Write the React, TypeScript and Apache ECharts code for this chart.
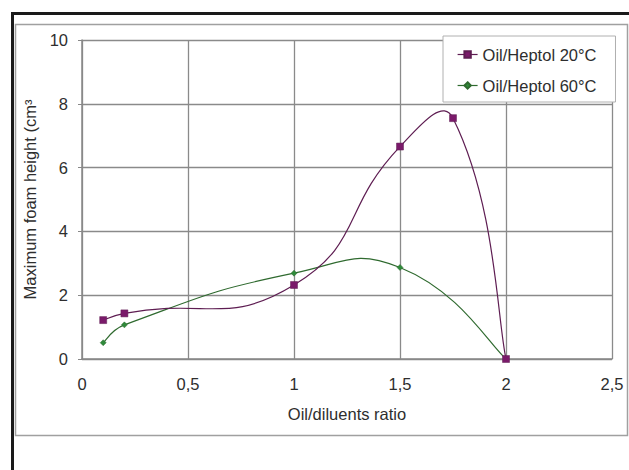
import React, { useEffect, useRef } from "react";
import * as echarts from "echarts";

const xTicks = [0, 0.5, 1, 1.5, 2, 2.5];
const yTicks = [0, 2, 4, 6, 8, 10];

const ratio20 = [0.1, 0.2, 1.0, 1.5, 1.75, 2.0];
const height20 = [1.22, 1.43, 2.32, 6.66, 7.55, 0];

const ratio60 = [0.1, 0.2, 1.0, 1.5, 2.0];
const height60 = [0.51, 1.07, 2.69, 2.87, 0];

const seriesNames = ["Oil/Heptol 20°C", "Oil/Heptol 60°C"];

const FONT = "'Liberation Sans', Arial, sans-serif";
const FS = 16.5;
const TEXT = "#2e2e2e";

const PURPLE_LINE = "#5e1d52";
const PURPLE_MARK = "#7a1a6a";
const GREEN_LINE = "#2f6a2f";
const GREEN_MARK = "#2f8a3a";

// Excel-like smoothed curve through the data points (distance-weighted tangents), in pixel space
function smoothCurve(xs: number[], ys: number[], color: string) {
  return (params: any, api: any) => {
    if (params.dataIndex !== 0) return null;
    const pts: number[][] = xs.map((x, i) => api.coord([x, ys[i]]));
    const n = pts.length;
    const s = 0.5;
    const dist = (a: number[], b: number[]) => Math.hypot(a[0] - b[0], a[1] - b[1]);
    const inCp: number[][] = [];
    const outCp: number[][] = [];
    for (let i = 0; i < n; i++) {
      const p = pts[i];
      if (i === 0 || i === n - 1) {
        const q = i === 0 ? pts[1] : pts[n - 2];
        const c = [p[0] + (q[0] - p[0]) * s / 3, p[1] + (q[1] - p[1]) * s / 3];
        inCp.push(c);
        outCp.push(c);
        continue;
      }
      const prev = pts[i - 1];
      const next = pts[i + 1];
      const v = [next[0] - prev[0], next[1] - prev[1]];
      const dp = dist(p, prev);
      const dn = dist(p, next);
      const tot = dp + dn || 1;
      inCp.push([p[0] - v[0] * s * dp / tot, p[1] - v[1] * s * dp / tot]);
      outCp.push([p[0] + v[0] * s * dn / tot, p[1] + v[1] * s * dn / tot]);
    }
    const children: any[] = [];
    for (let i = 0; i < n - 1; i++) {
      children.push({
        type: "bezierCurve",
        shape: {
          x1: pts[i][0],
          y1: pts[i][1],
          x2: pts[i + 1][0],
          y2: pts[i + 1][1],
          cpx1: outCp[i][0],
          cpy1: outCp[i][1],
          cpx2: inCp[i + 1][0],
          cpy2: inCp[i + 1][1],
        },
        style: { stroke: color, fill: "none", lineWidth: 1.2 },
      });
    }
    return { type: "group", children };
  };
}

export default function App() {
  const ref = useRef<HTMLDivElement>(null);

  useEffect(() => {
    if (!ref.current) return;
    const chart = echarts.init(ref.current, null, { renderer: "svg" });
    const pairs = (xs: number[], ys: number[]) => xs.map((x, i) => [x, ys[i]]);
    chart.setOption({
      animation: false,
      backgroundColor: "#ffffff",
      textStyle: { fontFamily: FONT },
      graphic: [
        {
          type: "rect",
          shape: { x: 15.5, y: 24.5, width: 612, height: 411 },
          style: { fill: "none", stroke: "#a0a0a0", lineWidth: 1.5 },
          silent: true,
        },
        {
          type: "polyline",
          shape: { points: [[12.5, 470], [12.5, 13.5], [629, 13.5]] },
          style: { fill: "none", stroke: "#1a1a1a", lineWidth: 3 },
          silent: true,
        },
      ],
      grid: { left: 82, top: 40, right: 17, bottom: 111, containLabel: false },
      legend: {
        left: 443,
        top: 36,
        orient: "vertical",
        padding: [10, 19, 8, 14],
        itemGap: 14,
        itemWidth: 20,
        itemHeight: 8,
        backgroundColor: "#ffffff",
        borderColor: "#b0b0b0",
        borderWidth: 1,
        textStyle: { fontSize: FS, color: TEXT, fontFamily: FONT },
        data: [
          { name: seriesNames[0], lineStyle: { width: 1.2, color: PURPLE_LINE } },
          { name: seriesNames[1], lineStyle: { width: 1.2, color: GREEN_LINE } },
        ],
      },
      xAxis: {
        type: "value",
        min: xTicks[0],
        max: xTicks[xTicks.length - 1],
        interval: 0.5,
        name: "Oil/diluents ratio",
        nameLocation: "middle",
        nameGap: 46,
        nameTextStyle: { fontSize: FS, color: TEXT, fontFamily: FONT },
        axisLine: { show: true, lineStyle: { color: "#888888", width: 1.5 } },
        axisTick: { show: false },
        axisLabel: {
          fontSize: FS,
          color: TEXT,
          margin: 16,
          fontFamily: FONT,
          formatter: (v: number) => String(v).replace(".", ","),
        },
        splitLine: { show: true, lineStyle: { color: "#8a8a8a", width: 1.3 } },
      },
      yAxis: {
        type: "value",
        min: yTicks[0],
        max: yTicks[yTicks.length - 1],
        interval: 2,
        name: "Maximum foam height (cm³",
        nameLocation: "middle",
        nameRotate: 90,
        nameGap: 44,
        nameTextStyle: { fontSize: FS, color: TEXT, fontFamily: FONT },
        axisLine: { show: true, lineStyle: { color: "#888888", width: 1.5 } },
        axisTick: { show: true, inside: false, length: 4, lineStyle: { color: "#888888" } },
        axisLabel: { fontSize: FS, color: TEXT, margin: 14, fontFamily: FONT },
        splitLine: { show: true, lineStyle: { color: "#8a8a8a", width: 1.3 } },
      },
      series: [
        {
          name: "curve20",
          type: "custom",
          renderItem: smoothCurve(ratio20, height20, PURPLE_LINE),
          data: pairs(ratio20, height20),
          silent: true,
          z: 3,
        },
        {
          name: "curve60",
          type: "custom",
          renderItem: smoothCurve(ratio60, height60, GREEN_LINE),
          data: pairs(ratio60, height60),
          silent: true,
          z: 2,
        },
        {
          name: seriesNames[0],
          type: "line",
          data: pairs(ratio20, height20),
          symbol: "rect",
          symbolSize: 7,
          lineStyle: { width: 0, color: PURPLE_LINE },
          itemStyle: { color: PURPLE_MARK, borderColor: PURPLE_LINE, borderWidth: 0.5 },
          z: 4,
        },
        {
          name: seriesNames[1],
          type: "line",
          data: pairs(ratio60, height60),
          symbol: "diamond",
          symbolSize: 6,
          lineStyle: { width: 0, color: GREEN_LINE },
          itemStyle: { color: GREEN_MARK, borderColor: GREEN_LINE, borderWidth: 0.5 },
          z: 3,
        },
      ],
    });
    return () => chart.dispose();
  }, []);

  return (
    <div
      ref={ref}
      style={{ position: "absolute", left: 0, top: 0, width: 629, height: 470 }}
    />
  );
}
